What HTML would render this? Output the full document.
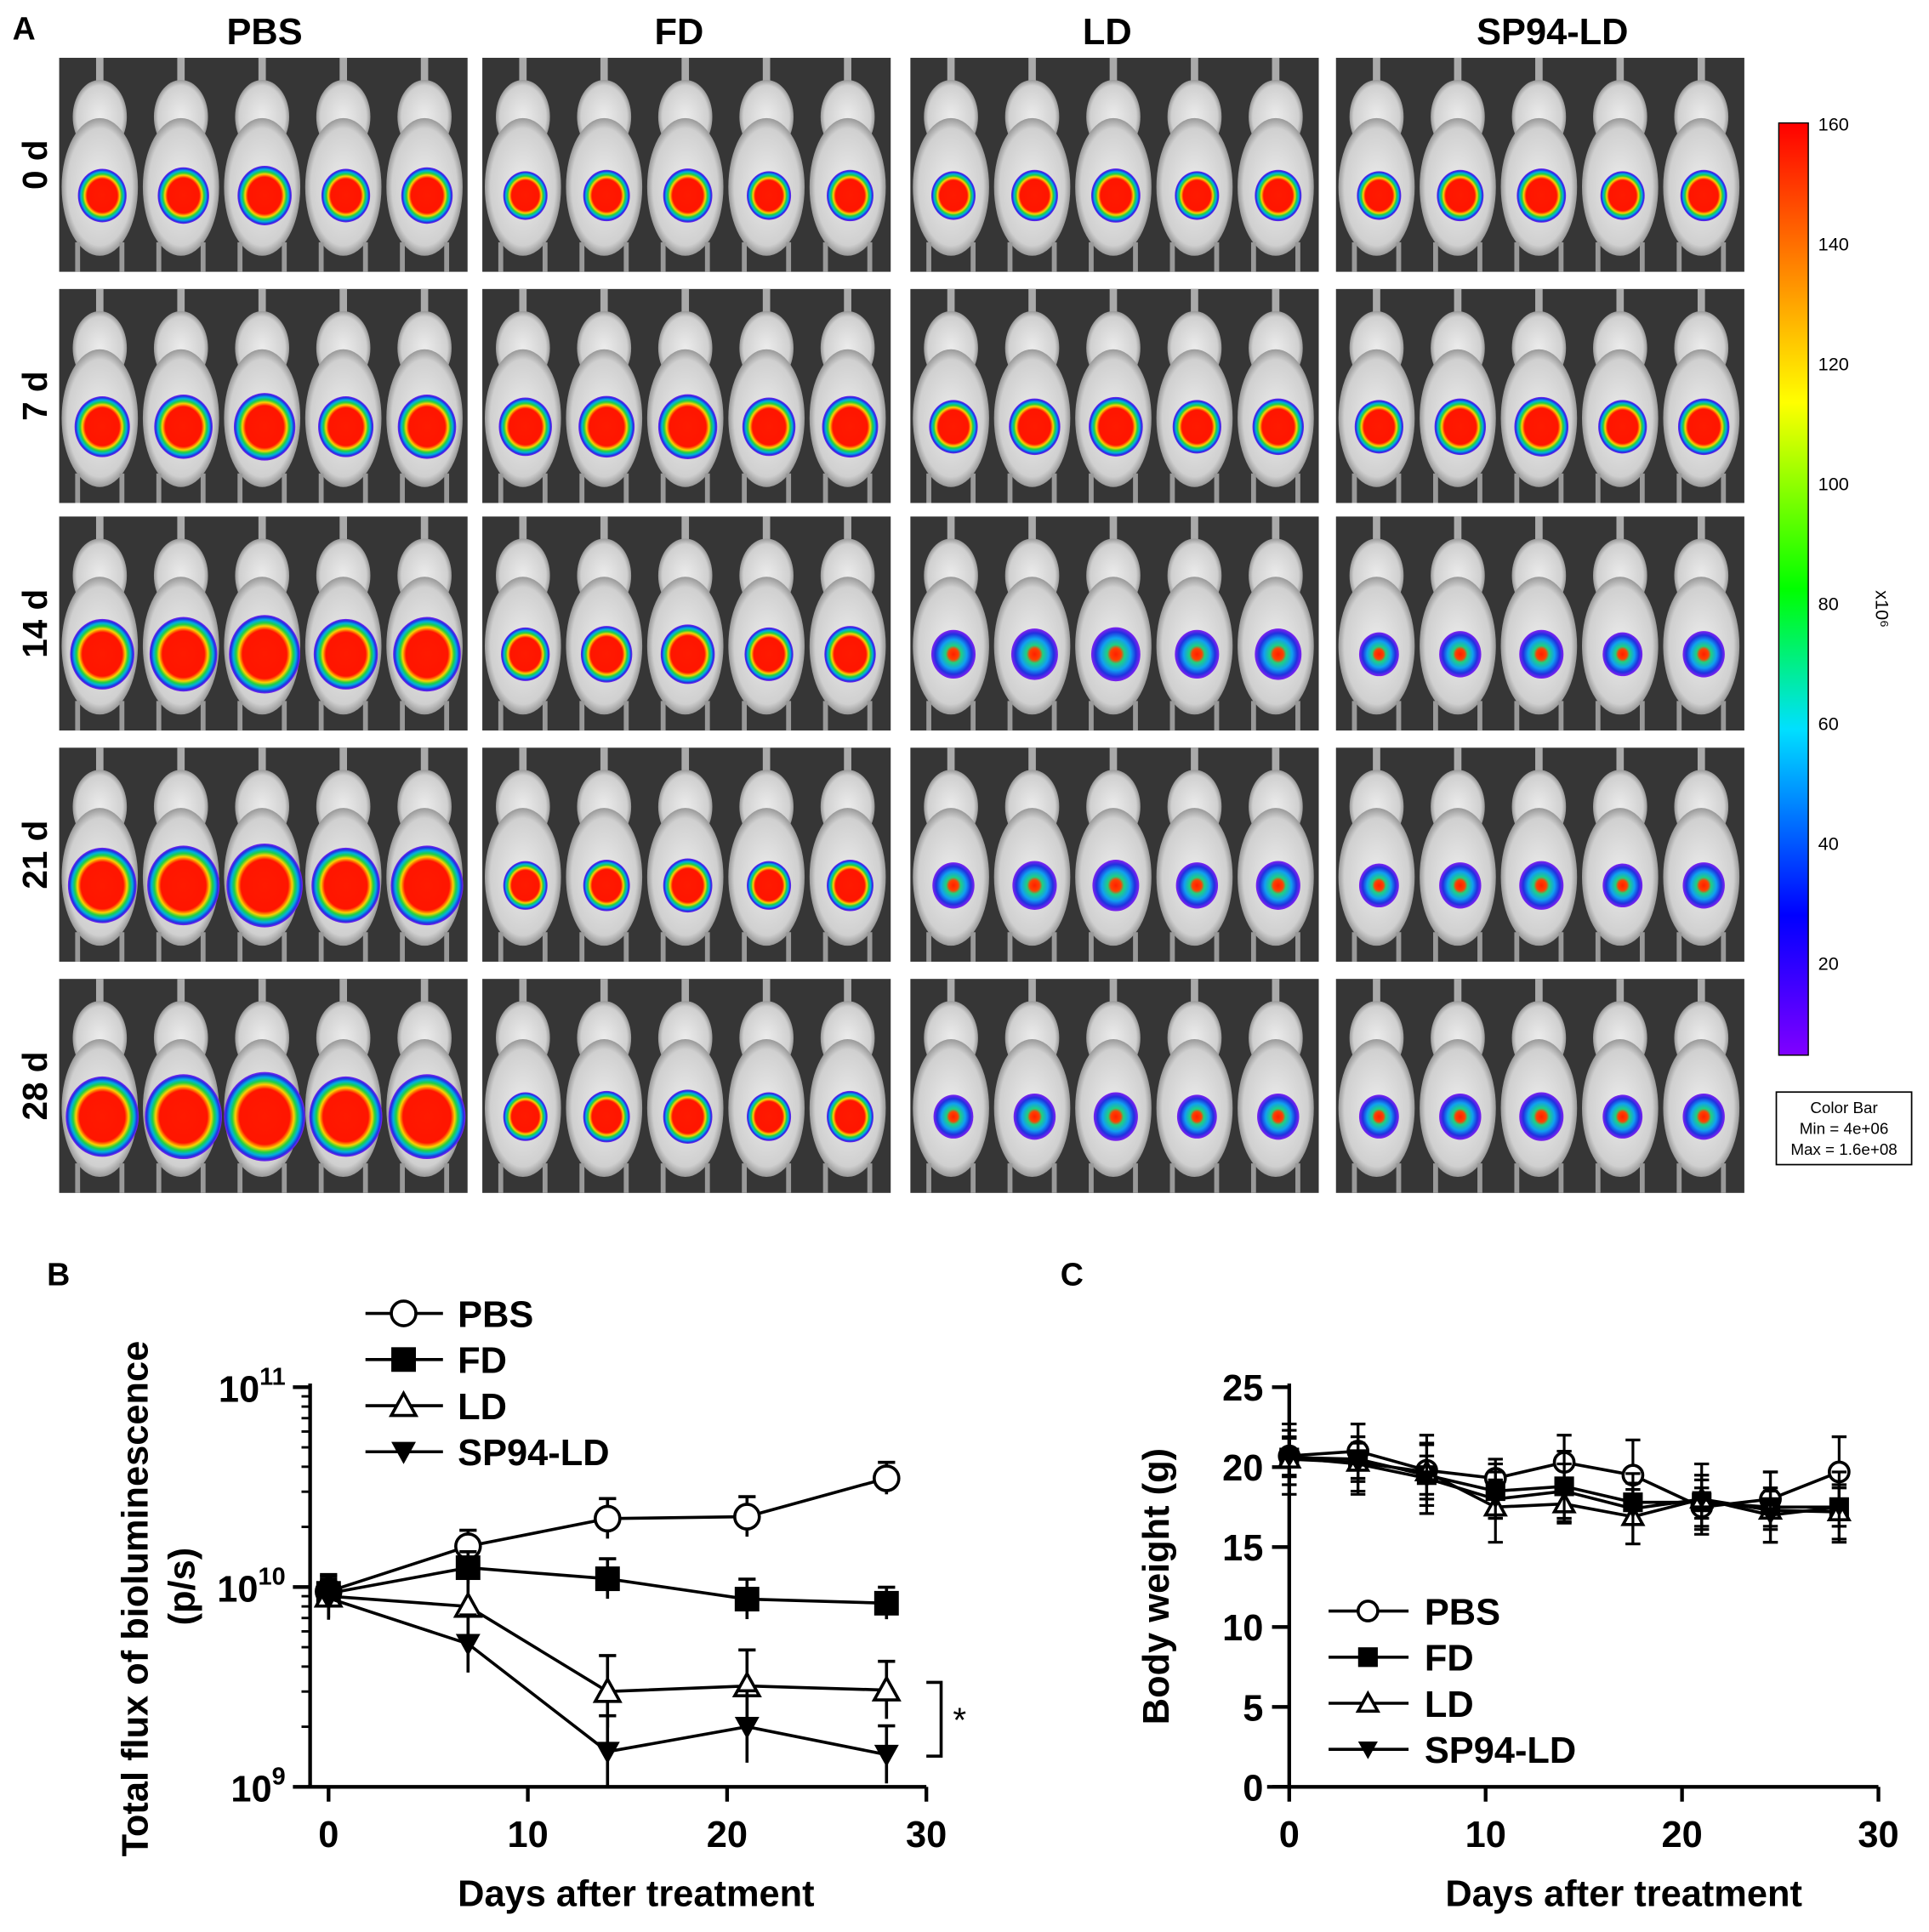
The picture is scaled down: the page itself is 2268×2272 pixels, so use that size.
<!DOCTYPE html>
<html><head><meta charset="utf-8"><style>
html,body{margin:0;padding:0;background:#fff}
svg{display:block;font-family:"Liberation Sans",Arial,sans-serif}
</style></head><body>
<svg id="fig" width="2268" height="2272" viewBox="0 0 1568 1571" xmlns="http://www.w3.org/2000/svg">
<defs>
<radialGradient id="hot"><stop offset="0" stop-color="#ff1a00"/><stop offset="0.62" stop-color="#ff1500"/><stop offset="0.72" stop-color="#ffd000"/><stop offset="0.8" stop-color="#20d040"/><stop offset="0.88" stop-color="#00b0e0"/><stop offset="0.95" stop-color="#2030e0"/><stop offset="1" stop-color="#8020f0"/></radialGradient>
<radialGradient id="cool"><stop offset="0" stop-color="#ff2000"/><stop offset="0.22" stop-color="#ff4000"/><stop offset="0.35" stop-color="#20d080"/><stop offset="0.6" stop-color="#10a0f0"/><stop offset="0.82" stop-color="#2030e0"/><stop offset="1" stop-color="#8020f0"/></radialGradient>
<linearGradient id="cbar" x1="0" y1="1" x2="0" y2="0"><stop offset="0" stop-color="#8000ff"/><stop offset="0.15" stop-color="#0000ff"/><stop offset="0.35" stop-color="#00e0ff"/><stop offset="0.5" stop-color="#00ff00"/><stop offset="0.7" stop-color="#ffff00"/><stop offset="0.85" stop-color="#ff8000"/><stop offset="1" stop-color="#ff0000"/></linearGradient>
<radialGradient id="mouse"><stop offset="0" stop-color="#ececec"/><stop offset="0.85" stop-color="#d0d0d0"/><stop offset="1" stop-color="#999"/></radialGradient>
</defs>
<g id="panelA"></g>
<g id="panelB"></g>
<g id="panelC"></g>
</svg>
<script>
const NS='http://www.w3.org/2000/svg';
function mk(parent,tag,attrs,txt){const e=document.createElementNS(NS,tag);for(const k in attrs)e.setAttribute(k,attrs[k]);if(txt!==undefined)e.textContent=txt;parent.appendChild(e);return e;}

// ---------- Panel A data ----------
const groups=['PBS','FD','LD','SP94-LD'];
const days=['0 d','7 d','14 d','21 d','28 d'];
const tumorSize=[[22,25,29,31,33],[20,24,22,20,20],[20,22,20,19,18],[20,22,18,18,18]];
const tumorHot=[[1,1,1,1,1],[1,1,1,1,1],[1,1,0,0,0],[1,1,0,0,0]];
const cbTicks=[160,140,120,100,80,60,40,20];

const A=document.getElementById('panelA');
let t=mk(A,'text',{x:10,y:32,'font-size':26,'font-weight':'bold'},'A');

const colX=[48,392,740,1086], colW=332;
const rowY=[47,235,420,608,796], rowH=174;
function midOff(gi){return [-1,6,6,-10][gi];}
groups.forEach((g,gi)=>{
  const h=mk(A,'text',{x:colX[gi]+colW/2-midOff(gi),y:36,'font-size':30,'font-weight':'bold','text-anchor':'middle'},g);
  
});
days.forEach((d,di)=>{
  const l=mk(A,'text',{transform:`translate(38,${rowY[di]+rowH/2}) rotate(-90)`,'font-size':28,'font-weight':'bold','text-anchor':'middle'},d);
  
  groups.forEach((g,gi)=>{
    const p=mk(A,'g',{});
    
    mk(p,'rect',{x:colX[gi],y:rowY[di],width:colW,height:rowH,fill:'#363636'});
    for(let m=0;m<5;m++){
      const cx=colX[gi]+33+m*66, y0=rowY[di];
      mk(p,'rect',{x:cx-3,y:y0,width:6,height:20,fill:'#aaa'});
      mk(p,'ellipse',{cx:cx,cy:y0+48,rx:22,ry:30,fill:'url(#mouse)'});
      mk(p,'ellipse',{cx:cx,cy:y0+105,rx:31,ry:56,fill:'url(#mouse)'});
      mk(p,'rect',{x:cx-20,y:y0+150,width:4,height:24,fill:'#999'});
      mk(p,'rect',{x:cx+16,y:y0+150,width:4,height:24,fill:'#999'});
      const r=tumorSize[gi][di]*(0.9+0.1*((m*7+di*3)%3)/2);
      mk(p,'ellipse',{cx:cx+2,cy:y0+112,rx:r,ry:r*1.1,fill:tumorHot[gi][di]?'url(#hot)':'url(#cool)'});
    }
  });
});
// colorbar
const cb=mk(A,'g',{});
mk(cb,'rect',{x:1446,y:100,width:24,height:758,fill:'url(#cbar)',stroke:'#000','stroke-width':1});
cbTicks.forEach(v=>{const y=100+(160-v)/20*97.5;mk(cb,'text',{x:1478,y:y+6,'font-size':15},v);});
mk(cb,'text',{transform:'translate(1525,480) rotate(90)','font-size':15},'x10⁶');
mk(cb,'rect',{x:1444,y:888,width:110,height:59,fill:'#fff',stroke:'#000','stroke-width':1.2});
['Color Bar','Min = 4e+06','Max = 1.6e+08'].forEach((s,i)=>mk(cb,'text',{x:1499,y:905+i*17,'font-size':13,'text-anchor':'middle'},s));

// ---------- Panel B data ----------
const bDays=[0,7,14,21,28];
const bPBS=[9.5e9,1.6e10,2.2e10,2.25e10,3.5e10];
const bFD=[9.3e9,1.25e10,1.1e10,8.7e9,8.3e9];
const bLD=[9e9,8e9,3e9,3.2e9,3.05e9];
const bSP=[8.8e9,5.2e9,1.5e9,2e9,1.45e9];
const bErr=[0.06,0.08,0.1,0.1,0.08];
const bXTicks=[0,10,20,30];
const bYTicks=[9,10,11];

// ---------- Panel C data ----------
const cDays=[0,3.5,7,10.5,14,17.5,21,24.5,28];
const cPBS=[20.7,21,19.8,19.3,20.3,19.5,17.5,18,19.7];
const cFD=[20.6,20.5,19.5,18.5,18.8,17.8,17.8,17.5,17.5];
const cLD=[20.5,20.3,19.7,17.5,17.7,16.9,18,17.3,17.2];
const cSP=[20.6,20.2,19.3,18,18.5,17.4,18,17,17.5];
const cXTicks=[0,10,20,30];
const cYTicks=[0,5,10,15,20,25];

const names=['PBS','FD','LD','SP94-LD'];
function marker(g,type,x,y,s,name){
  let e;
  if(type==0)e=mk(g,'circle',{cx:x,cy:y,r:s,fill:'#fff',stroke:'#000','stroke-width':2.5});
  else if(type==1)e=mk(g,'rect',{x:x-s,y:y-s,width:2*s,height:2*s,fill:'#000'});
  else if(type==2)e=mk(g,'polygon',{points:`${x},${y-s} ${x-s},${y+s*0.8} ${x+s},${y+s*0.8}`,fill:'#fff',stroke:'#000','stroke-width':2.5});
  else e=mk(g,'polygon',{points:`${x-s},${y-s*0.8} ${x+s},${y-s*0.8} ${x},${y+s}`,fill:'#000'});
  
}

// Panel B
(function(){
  const B=document.getElementById('panelB');
  const X=d=>267+d/30*486, Y=v=>1453-(Math.log10(v)-9)*162.5;
  t=mk(B,'text',{x:38,y:1045,'font-size':26,'font-weight':'bold'},'B');
  
  const ax=mk(B,'g',{stroke:'#000','stroke-width':3,fill:'none'});
  
  mk(ax,'line',{x1:252,y1:1125,x2:252,y2:1453});
  mk(ax,'line',{x1:250,y1:1453,x2:753,y2:1453});
  bXTicks.forEach(v=>{mk(ax,'line',{x1:X(v),y1:1453,x2:X(v),y2:1465});mk(B,'text',{x:X(v),y:1502,'font-size':30,'font-weight':'bold','text-anchor':'middle'},v);});
  bYTicks.forEach(p=>{mk(ax,'line',{x1:238,y1:Y(10**p),x2:252,y2:Y(10**p)});
    const tx=mk(B,'text',{x:232,y:Y(10**p)+12,'font-size':30,'font-weight':'bold','text-anchor':'end'},'10');
    mk(tx,'tspan',{dy:-14,'font-size':20},p);});
  for(let p=9;p<11;p++)for(let k=2;k<10;k++)mk(ax,'line',{x1:245,y1:Y(k*10**p),x2:252,y2:Y(k*10**p),'stroke-width':2});
  mk(B,'text',{x:517,y:1550,'font-size':30,'font-weight':'bold','text-anchor':'middle'},'Days after treatment');
  mk(B,'text',{transform:'translate(120,1300) rotate(-90)','font-size':30,'font-weight':'bold','text-anchor':'middle'},'Total flux of bioluminescence');
  mk(B,'text',{transform:'translate(158,1290) rotate(-90)','font-size':30,'font-weight':'bold','text-anchor':'middle'},'(p/s)');
  [bPBS,bFD,bLD,bSP].forEach((s,si)=>{
    const g=mk(B,'g',{});
    mk(g,'polyline',{points:s.map((v,i)=>X(bDays[i])+','+Y(v)).join(' '),fill:'none',stroke:'#000','stroke-width':2.5});
    s.forEach((v,i)=>{const e=bErr[i]*(si>=2?1.8:1);mk(g,'line',{x1:X(bDays[i]),y1:Y(v*10**e),x2:X(bDays[i]),y2:Y(v/10**e),stroke:'#000','stroke-width':2.5});
      mk(g,'line',{x1:X(bDays[i])-7,y1:Y(v*10**e),x2:X(bDays[i])+7,y2:Y(v*10**e),stroke:'#000','stroke-width':2.5});
      marker(g,si,X(bDays[i]),Y(v),10,'b-point-'+names[si].toLowerCase());});
  });
  const br=mk(B,'polyline',{points:'753,1368 765,1368 765,1428 753,1428',fill:'none',stroke:'#000','stroke-width':2.5});
  
  mk(B,'text',{x:780,y:1408,'font-size':28,'text-anchor':'middle'},'*');
  names.forEach((n,i)=>{const y=1068+i*37.5;const g=mk(B,'g',{});
    
    mk(g,'line',{x1:297,y1:y,x2:360,y2:y,stroke:'#000','stroke-width':2.5});
    marker(g,i,328,y,10,'b-legend-marker');
    mk(g,'text',{x:372,y:y+11,'font-size':30,'font-weight':'bold'},n);});
})();

// Panel C
(function(){
  const C=document.getElementById('panelC');
  const X=d=>1048+d/30*479, Y=v=>1453-v/25*325;
  t=mk(C,'text',{x:862,y:1045,'font-size':26,'font-weight':'bold'},'C');
  
  const ax=mk(C,'g',{stroke:'#000','stroke-width':3,fill:'none'});
  
  mk(ax,'line',{x1:1048,y1:1125,x2:1048,y2:1453});
  mk(ax,'line',{x1:1030,y1:1453,x2:1527,y2:1453});
  cXTicks.forEach(v=>{mk(ax,'line',{x1:X(v),y1:1453,x2:X(v),y2:1465});mk(C,'text',{x:X(v),y:1502,'font-size':30,'font-weight':'bold','text-anchor':'middle'},v);});
  cYTicks.forEach(v=>{mk(ax,'line',{x1:1034,y1:Y(v),x2:1048,y2:Y(v)});mk(C,'text',{x:1027,y:Y(v)+11,'font-size':30,'font-weight':'bold','text-anchor':'end'},v);});
  mk(C,'text',{x:1320,y:1550,'font-size':30,'font-weight':'bold','text-anchor':'middle'},'Days after treatment');
  mk(C,'text',{transform:'translate(950,1290) rotate(-90)','font-size':30,'font-weight':'bold','text-anchor':'middle'},'Body weight (g)');
  [cPBS,cFD,cLD,cSP].forEach((s,si)=>{
    const g=mk(C,'g',{});
    mk(g,'polyline',{points:s.map((v,i)=>X(cDays[i])+','+Y(v)).join(' '),fill:'none',stroke:'#000','stroke-width':2.5});
    s.forEach((v,i)=>{const e=1.2+((i+si)%3)*0.5;
      mk(g,'line',{x1:X(cDays[i]),y1:Y(v+e),x2:X(cDays[i]),y2:Y(v-e),stroke:'#000','stroke-width':2.2});
      mk(g,'line',{x1:X(cDays[i])-6,y1:Y(v+e),x2:X(cDays[i])+6,y2:Y(v+e),stroke:'#000','stroke-width':2.2});
      mk(g,'line',{x1:X(cDays[i])-6,y1:Y(v-e),x2:X(cDays[i])+6,y2:Y(v-e),stroke:'#000','stroke-width':2.2});
      marker(g,si,X(cDays[i]),Y(v),8,'c-point-'+names[si].toLowerCase());});
  });
  names.forEach((n,i)=>{const y=1310+i*37.5;const g=mk(C,'g',{});
    
    mk(g,'line',{x1:1080,y1:y,x2:1145,y2:y,stroke:'#000','stroke-width':2.5});
    marker(g,i,1112,y,8,'c-legend-marker');
    mk(g,'text',{x:1158,y:y+11,'font-size':30,'font-weight':'bold'},n);});
})();
</script>
</body></html>
